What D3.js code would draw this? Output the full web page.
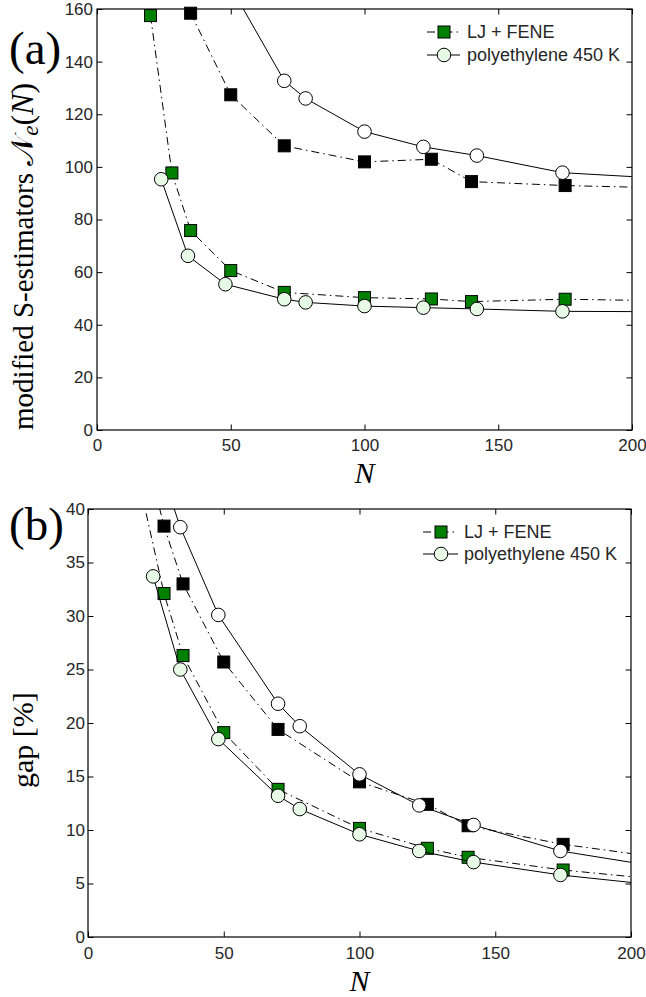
<!DOCTYPE html>
<html>
<head>
<meta charset="utf-8">
<script src="https://cdn.jsdelivr.net/npm/d3@7"></script>
<style>
body { margin: 0; background: #fff; }
</style>
</head>
<body>
<div id="chart"></div>
<script>
"use strict";

const SANS = "'Liberation Sans', Arial, Helvetica, sans-serif";
const SERIF = "'Liberation Serif', 'Times New Roman', Times, serif";

// Shared x ticks
const x_ticks = [0, 50, 100, 150, 200];

// Panel (a): modified S-estimators
const a_y_ticks = [0, 20, 40, 60, 80, 100, 120, 140, 160];
const a_lj_upper_N = [35, 50, 70, 100, 125, 140, 175, 200];
const a_lj_upper_v = [158.4, 127.4, 108.0, 101.9, 102.9, 94.4, 92.9, 92.3];
const a_pe_upper_N = [48, 70, 78, 100, 122, 142, 174, 200];
const a_pe_upper_v = [172, 132.7, 126.0, 113.4, 107.6, 104.3, 97.8, 96.3];
const a_lj_lower_N = [20, 28, 35, 50, 70, 100, 125, 140, 175, 200];
const a_lj_lower_v = [157.5, 97.7, 75.8, 60.6, 52.3, 50.3, 49.8, 48.8, 49.7, 49.3];
const a_pe_lower_N = [24, 34, 48, 70, 78, 100, 122, 142, 174, 200];
const a_pe_lower_v = [95.3, 66.2, 55.4, 49.7, 48.5, 47.1, 46.5, 46.0, 45.1, 45.0];

// Panel (b): gap [%]
const b_y_ticks = [0, 5, 10, 15, 20, 25, 30, 35, 40];
const b_lj_upper_N = [20, 28, 35, 50, 70, 100, 125, 140, 175, 200];
const b_lj_upper_v = [46.5, 38.4, 33.0, 25.7, 19.4, 14.5, 12.4, 10.4, 8.66, 7.8];
const b_pe_upper_N = [24, 34, 48, 70, 78, 100, 122, 142, 174, 200];
const b_pe_upper_v = [45.9, 38.3, 30.1, 21.8, 19.7, 15.2, 12.3, 10.47, 8.04, 6.98];
const b_lj_lower_N = [20, 28, 35, 50, 70, 100, 125, 140, 175, 200];
const b_lj_lower_v = [41.2, 32.1, 26.3, 19.1, 13.8, 10.15, 8.29, 7.45, 6.26, 5.64];
const b_pe_lower_N = [24, 34, 48, 70, 78, 100, 122, 142, 174, 200];
const b_pe_lower_v = [33.7, 25.0, 18.5, 13.2, 11.96, 9.6, 8.04, 7.0, 5.8, 5.1];

const legend_labels = ["LJ + FENE", "polyethylene 450 K"];

const DASH_DOT = "8,4,1.5,4";
const SQUARE = 12;
const RADIUS = 6.8;
const styles = {
    lj_green: {dash: DASH_DOT, marker: "square", fill: "#008000"},
    lj_black: {dash: DASH_DOT, marker: "square", fill: "#000000"},
    pe_white: {dash: null, marker: "circle", fill: "#ffffff"},
    pe_light: {dash: null, marker: "circle", fill: "#e6fae6"}
};

const svg = d3.select("#chart").append("svg")
    .attr("width", 646)
    .attr("height", 997)
    .style("background-color", "white");

function zip(xs, ys) {
    return xs.map(function (x, i) { return [x, ys[i]]; });
}

function draw_marker(sel, style, cx, cy) {
    if (style.marker === "square") {
        sel.append("rect")
            .attr("x", cx - SQUARE / 2).attr("y", cy - SQUARE / 2)
            .attr("width", SQUARE).attr("height", SQUARE)
            .attr("fill", style.fill).attr("stroke", "#000").attr("stroke-width", 1);
    } else {
        sel.append("circle")
            .attr("cx", cx).attr("cy", cy).attr("r", RADIUS)
            .attr("fill", style.fill).attr("stroke", "#000").attr("stroke-width", 1);
    }
}

function draw_panel(cfg) {
    const x_scale = d3.scaleLinear().domain([0, 200]).range([cfg.left, cfg.right]);
    const y_max = cfg.y_ticks[cfg.y_ticks.length - 1];
    const y_scale = d3.scaleLinear().domain([0, y_max]).range([cfg.bottom, cfg.top]);

    const g = svg.append("g").attr("class", cfg.name);

    g.append("clipPath").attr("id", "clip_" + cfg.name)
        .append("rect")
        .attr("x", cfg.left).attr("y", cfg.top)
        .attr("width", cfg.right - cfg.left).attr("height", cfg.bottom - cfg.top);

    // Axes with inward ticks on all four sides
    const TICK = -5.5;
    const axes = [
        {axis: d3.axisBottom(x_scale).tickValues(x_ticks).tickPadding(cfg.x_pad), tr: "translate(0," + cfg.bottom + ")", labels: true},
        {axis: d3.axisTop(x_scale).tickValues(x_ticks), tr: "translate(0," + cfg.top + ")", labels: false},
        {axis: d3.axisLeft(y_scale).tickValues(cfg.y_ticks).tickPadding(cfg.y_pad), tr: "translate(" + cfg.left + ",0)", labels: true},
        {axis: d3.axisRight(y_scale).tickValues(cfg.y_ticks), tr: "translate(" + cfg.right + ",0)", labels: false}
    ];
    axes.forEach(function (a) {
        a.axis.tickSizeInner(TICK).tickSizeOuter(0).tickFormat(d3.format("d"));
        const ag = g.append("g").attr("transform", a.tr).call(a.axis);
        ag.select(".domain").remove();
        ag.selectAll(".tick line").attr("stroke", "#000");
        ag.selectAll(".tick text")
            .attr("fill", "#262626")
            .style("font-size", "17px")
            .style("font-family", SANS);
        if (!a.labels) ag.selectAll(".tick text").remove();
    });

    g.append("rect")
        .attr("x", cfg.left).attr("y", cfg.top)
        .attr("width", cfg.right - cfg.left).attr("height", cfg.bottom - cfg.top)
        .attr("fill", "none").attr("stroke", "#000").attr("stroke-width", 1.2);

    const line = d3.line()
        .x(function (d) { return x_scale(d[0]); })
        .y(function (d) { return y_scale(d[1]); });

    // squares first, circles on top
    cfg.series.forEach(function (s) {
        const style = styles[s.style];
        const pts = zip(s.N, s.v);
        g.append("path")
            .datum(pts)
            .attr("d", line)
            .attr("fill", "none")
            .attr("stroke", "#000")
            .attr("stroke-width", 1)
            .attr("stroke-dasharray", style.dash)
            .attr("clip-path", "url(#clip_" + cfg.name + ")");
        const mg = g.append("g");
        pts.filter(function (d) { return d[0] < 200 && d[1] <= y_max; })
            .forEach(function (d) { draw_marker(mg, style, x_scale(d[0]), y_scale(d[1])); });
    });

    // Legend
    const leg = g.append("g");
    cfg.legend_styles.forEach(function (st, i) {
        const style = styles[st];
        const ly = cfg.legend_y[i];
        leg.append("line")
            .attr("x1", cfg.legend_x0).attr("x2", cfg.legend_x1)
            .attr("y1", ly).attr("y2", ly)
            .attr("stroke", "#000").attr("stroke-width", 1)
            .attr("stroke-dasharray", style.dash);
        draw_marker(leg, style, cfg.legend_mx, ly);
        leg.append("text")
            .attr("x", cfg.legend_tx).attr("y", ly).attr("dy", "0.35em")
            .attr("fill", "#262626")
            .style("font-family", SANS)
            .style("font-size", "18px")
            .text(legend_labels[i]);
    });

    // x label
    g.append("text")
        .attr("x", (cfg.left + cfg.right) / 2).attr("y", cfg.x_label_y)
        .attr("text-anchor", "middle")
        .style("font-family", SERIF)
        .style("font-size", "30px").style("font-style", "italic")
        .text("N");

    // panel letter
    g.append("text")
        .attr("x", 9).attr("y", cfg.letter_y)
        .style("font-family", SERIF)
        .style("font-size", "47px")
        .text(cfg.letter);

    return g;
}

const panel_a = draw_panel({
    name: "a", left: 97, right: 632, top: 9, bottom: 430,
    y_ticks: a_y_ticks, x_pad: 9, y_pad: 4,
    series: [
        {N: a_lj_upper_N, v: a_lj_upper_v, style: "lj_black"},
        {N: a_lj_lower_N, v: a_lj_lower_v, style: "lj_green"},
        {N: a_pe_upper_N, v: a_pe_upper_v, style: "pe_white"},
        {N: a_pe_lower_N, v: a_pe_lower_v, style: "pe_light"}
    ],
    legend_styles: ["lj_green", "pe_light"],
    legend_x0: 427, legend_x1: 460, legend_mx: 444, legend_tx: 467, legend_y: [32, 55],
    x_label_y: 483, letter: "(a)", letter_y: 64
});

const panel_b = draw_panel({
    name: "b", left: 88, right: 631, top: 509, bottom: 937,
    y_ticks: b_y_ticks, x_pad: 10, y_pad: 3,
    series: [
        {N: b_lj_upper_N, v: b_lj_upper_v, style: "lj_black"},
        {N: b_lj_lower_N, v: b_lj_lower_v, style: "lj_green"},
        {N: b_pe_upper_N, v: b_pe_upper_v, style: "pe_white"},
        {N: b_pe_lower_N, v: b_pe_lower_v, style: "pe_light"}
    ],
    legend_styles: ["lj_green", "pe_light"],
    legend_x0: 423, legend_x1: 458, legend_mx: 441, legend_tx: 464, legend_y: [532, 554],
    x_label_y: 991, letter: "(b)", letter_y: 540
});

// y labels (rotated)
const ya = panel_a.append("text")
    .attr("transform", "translate(33,430) rotate(-90)")
    .style("font-family", SERIF)
    .style("font-size", "29px");
ya.append("tspan").text("modified S-estimators ");
ya.append("tspan")
    .style("font-family", "'DejaVu Serif', 'DejaVu Sans', serif")
    .style("font-size", "31px").text("\u{1D4A9}");
ya.append("tspan").style("font-style", "italic").style("font-size", "23px").attr("dy", 5).text("e");
ya.append("tspan").attr("dy", -5).style("font-size", "32px").text("(");
ya.append("tspan").style("font-style", "italic").style("font-size", "32px").text("N");
ya.append("tspan").style("font-size", "32px").text(")");

panel_b.append("text")
    .attr("transform", "translate(33,788) rotate(-90)")
    .style("font-family", SERIF)
    .style("font-size", "30px")
    .text("gap [%]");
</script>
</body>
</html>
